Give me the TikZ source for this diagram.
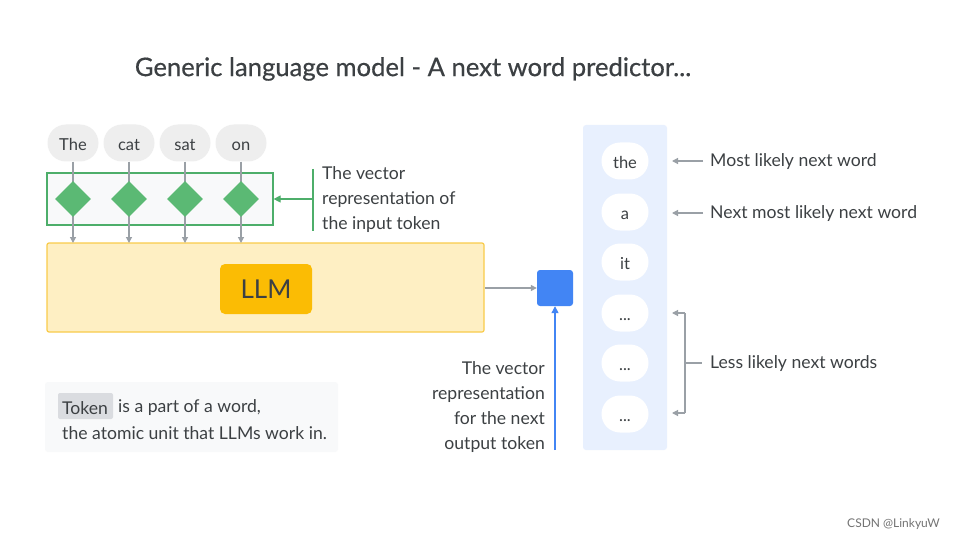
\documentclass[tikz,border=0pt]{standalone}
\usepackage{fontspec}
\setmainfont{Lato}
\newfontfamily\titlefont[FakeBold=0.5]{Lato}
\usetikzlibrary{arrows.meta,shapes.geometric,shapes.misc}
\definecolor{txt}{HTML}{3C4043}
\definecolor{arrgray}{HTML}{9AA0A6}
\definecolor{bubgray}{HTML}{EEEEEE}
\definecolor{grn}{HTML}{4DAE6A}
\definecolor{dia}{HTML}{5BB974}
\definecolor{llmbg}{HTML}{FEEFC3}
\definecolor{llmbd}{HTML}{F9CB4A}
\definecolor{llmin}{HTML}{FBBC04}
\definecolor{blu}{HTML}{4285F4}
\definecolor{colbg}{HTML}{E8F0FE}
\definecolor{notebg}{HTML}{F8F9FA}
\definecolor{tokhl}{HTML}{DADCE0}
\tikzset{
  body/.style={font=\fontsize{17.6}{25}\selectfont, text=txt, inner sep=0pt},
  tokbub/.style={rounded rectangle, fill=bubgray, minimum width=51pt, minimum height=37pt, inner sep=0pt, font=\fontsize{16.5}{20}\selectfont, text=txt, text height=15pt, text depth=0pt},
  outbub/.style={rounded rectangle, fill=white, minimum width=47pt, minimum height=37pt, inner sep=0pt, font=\fontsize{16.5}{20}\selectfont, text=txt, text height=15pt, text depth=0pt},
  vec/.style={diamond, fill=dia, minimum width=36pt, minimum height=36pt, inner sep=0pt, aspect=1},
  garr/.style={draw=arrgray, line width=1.2pt, -{Triangle[length=6pt,width=6pt]}},
  gline/.style={draw=arrgray, line width=1.2pt},
}
\begin{document}
\begin{tikzpicture}[x=1pt,y=-1pt]
\useasboundingbox[fill=white] (0,0) rectangle (960,540);

% title
\node[text=txt, inner sep=0pt, font=\titlefont\fontsize{25.6}{30}\selectfont] (title) at (413,69) {Generic language model - A next word predictor...};

% LLM box
\node[draw=llmbd, fill=llmbg, line width=1.2pt, rounded corners=2pt, minimum width=437pt, minimum height=89pt, inner sep=0pt] (llmbox) at (265.5,287.5) {};
\node[fill=llmin, rounded corners=5pt, minimum width=92pt, minimum height=50pt, inner sep=0pt, text=txt, font=\fontsize{26}{30}\selectfont] (llm) at (266,289) {LLM};

% embedding frame
\node[draw=grn, fill=notebg, line width=1.2pt, minimum width=226pt, minimum height=52pt, inner sep=0pt] (emb) at (160,199) {};

% tokens
\foreach \n/\w/\x in {t1/The/73, t2/cat/129, t3/sat/185, t4/on/241}{
  \node[tokbub] (\n) at (\x,143) {\w};
  \coordinate (\n in) at (\x,243);
  \draw[garr] (\n.south) -- (\n in);
  \node[vec] (d\n) at (\x,199) {};
}

% green annotation
\coordinate (gtop) at (313,169);
\coordinate (gbot) at (313,231);
\coordinate (gmid) at (313,199);
\draw[draw=grn, line width=1.2pt] (gtop) -- (gbot);
\draw[draw=grn, line width=1.2pt, -{Triangle[length=7pt,width=7pt]}] (gmid) -- (emb.east);
\node[body, anchor=north west, align=left] (embtxt) at (322,166) {The vector\\representation of\\the input token};

% output vector
\node[fill=blu, rounded corners=3pt, minimum width=36pt, minimum height=36pt, inner sep=0pt] (outv) at (555,288) {};
\draw[garr] (llmbox.east |- outv) -- (outv.west);
\coordinate (bstart) at (555,450);
\draw[draw=blu, line width=1.2pt, -{Triangle[length=7pt,width=7pt]}] (bstart) -- (outv.south);
\node[body, anchor=north east, align=right] (outtxt) at (545,361) {The vector\\representation\\for the next\\output token};

% output column
\node[fill=colbg, rounded corners=3pt, minimum width=84pt, minimum height=325pt, inner sep=0pt] (col) at (625,287.5) {};
\node[outbub] (o1) at (625,161) {the};
\node[outbub] (o2) at (625,212) {a};
\node[outbub] (o3) at (625,262) {it};
\node[outbub] (o4) at (625,313) {...};
\node[outbub] (o5) at (625,363) {...};
\node[outbub] (o6) at (625,414) {...};

% right labels
\node[body, anchor=west] (l1) at (710,162) {Most likely next word};
\node[body, anchor=west] (l2) at (710,214) {Next most likely next word};
\node[body, anchor=west] (l3) at (710,364) {Less likely next words};
\coordinate (a1) at (672,161);
\coordinate (a2) at (672,213);
\draw[garr] (703,161) -- (a1);
\draw[garr] (703,213) -- (a2);
\coordinate (bt) at (685,313);
\coordinate (bb) at (685,413);
\coordinate (bm) at (685,363);
\coordinate (a4) at (672,313);
\coordinate (a6) at (672,413);
\draw[gline] (bt) -- (bb);
\draw[gline] (bm) -- ([xshift=-8pt]l3.west |- bm);
\draw[garr] (bt) -- (a4);
\draw[garr] (bb) -- (a6);

% token note
\node[fill=notebg, rounded corners=3pt, minimum width=293pt, minimum height=70pt, inner sep=0pt] (note) at (191.5,417) {};
\node[fill=tokhl, rounded corners=2pt, minimum width=55pt, minimum height=26pt, inner sep=0pt] (tok) at (85.5,406) {};
\node[body, anchor=west] (tokw) at (62,408) {Token};
\node[body, anchor=west] (n1) at (118,408) {is a part of a word,};
\node[body, anchor=west] (n2) at (62,433) {the atomic unit that LLMs work in.};

% watermark
\node[font=\fontsize{12}{14}\selectfont, text=black!55, inner sep=0pt, anchor=east] (wm) at (940,524) {CSDN @LinkyuW};
\end{tikzpicture}
\end{document}
